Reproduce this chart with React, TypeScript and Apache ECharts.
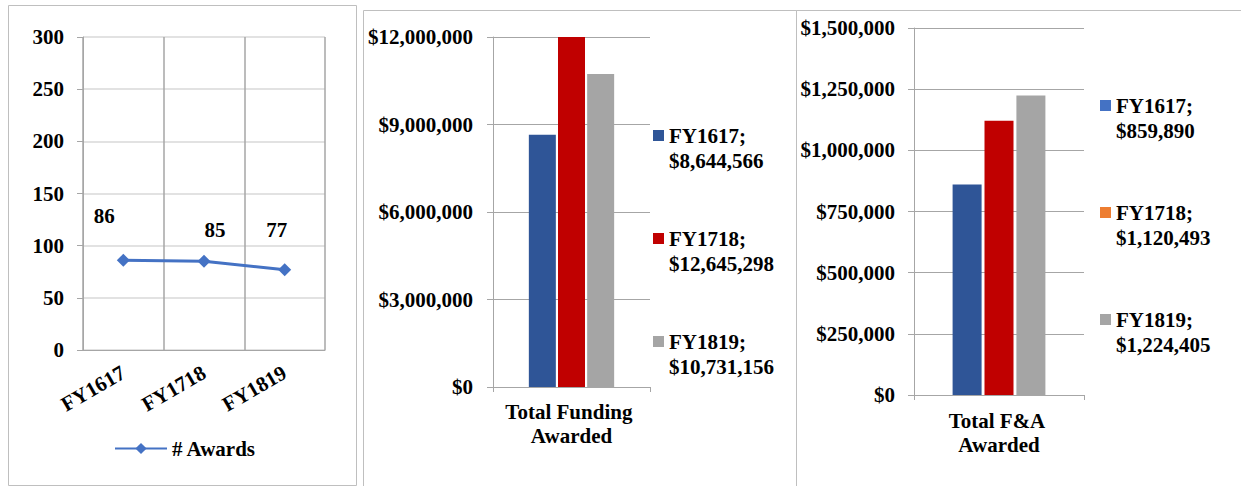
import React, { useEffect, useRef } from "react";
import * as echarts from "echarts";

const years = ["FY1617", "FY1718", "FY1819"];
const awards = [86, 85, 77];
const awardsSeriesName = "# Awards";
const awardsTicks = { min: 0, max: 300, interval: 50 };
const awardLabelOffsets = [[-19, -22], [11, -9], [-8, -18]];

const fundingCategory = ["Total Funding Awarded"];
const fundingValues = [8644566, 12645298, 10731156];
const fundingTicks = { min: 0, max: 12000000, interval: 3000000 };

const faCategory = ["Total F&A Awarded"];
const faValues = [859890, 1120493, 1224405];
const faTicks = { min: 0, max: 1500000, interval: 250000 };

const barColors = ["#2F5597", "#C00000", "#A5A5A5"];
const faLegendColors = ["#4472C4", "#ED7D31", "#A5A5A5"];
const lineColor = "#4472C4";

const FONT = "Liberation Serif";
const txt = { fontFamily: FONT, fontWeight: "bold" as const, fontSize: 21, color: "#000" };

const money = (v: number) => "$" + v.toLocaleString("en-US");

export default function App() {
  const ref = useRef<HTMLDivElement>(null);
  useEffect(() => {
    if (!ref.current) return;
    const chart = echarts.init(ref.current, null, { renderer: "svg" });

    const fundingNames = years.map((y, i) => `${y}; ${money(fundingValues[i])}`);
    const faNames = years.map((y, i) => `${y}; ${money(faValues[i])}`);

    const yAxisCommon = (ticks: any, fmt: (v: number) => string) => ({
      type: "value",
      min: ticks.min,
      max: ticks.max,
      interval: ticks.interval,
      axisLine: { show: true, lineStyle: { color: "#A6A6A6", width: 1 } },
      axisTick: { show: true, length: 6, lineStyle: { color: "#A6A6A6" } },
      axisLabel: { ...txt, margin: 20, formatter: fmt },
      splitLine: { show: true, lineStyle: { color: "#A6A6A6", width: 1 } },
    });

    const legendText = { ...txt, lineHeight: 25 };
    const legendFmt = (n: string) => "\n" + n.replace("; ", ";\n");

    const option: any = {
      animation: false,
      backgroundColor: "#fff",
      textStyle: { fontFamily: FONT },
      graphic: [
        { type: "rect", shape: { x: 8.5, y: 5.5, width: 348, height: 480 }, style: { fill: "none", stroke: "#BFBFBF", lineWidth: 1 }, silent: true },
        { type: "rect", shape: { x: 363.5, y: 10.5, width: 433, height: 490 }, style: { fill: "none", stroke: "#BFBFBF", lineWidth: 1 }, silent: true },
        { type: "rect", shape: { x: 796.5, y: 10.5, width: 460, height: 490 }, style: { fill: "none", stroke: "#BFBFBF", lineWidth: 1 }, silent: true },
      ],
      grid: [
        { left: 83, top: 37, width: 242, height: 313, containLabel: false },
        { left: 493, top: 37, width: 157, height: 350, containLabel: false },
        { left: 914, top: 28, width: 170, height: 367, containLabel: false },
      ],
      xAxis: [
        {
          gridIndex: 0,
          type: "category",
          data: years,
          boundaryGap: true,
          axisLine: { show: true, lineStyle: { color: "#A6A6A6" } },
          axisTick: { show: false },
          axisLabel: { ...txt, rotate: 30, margin: 21, interval: 0 },
          splitLine: { show: true, interval: 0, lineStyle: { color: "#A6A6A6", width: 1.5 } },
        },
        {
          gridIndex: 1,
          type: "category",
          data: fundingCategory,
          axisLine: { show: true, lineStyle: { color: "#A6A6A6" } },
          axisTick: { show: true, length: 5, lineStyle: { color: "#A6A6A6" } },
          axisLabel: { ...txt, margin: 13, lineHeight: 24, width: 150, overflow: "break", interval: 0 },
          splitLine: { show: false },
        },
        {
          gridIndex: 2,
          type: "category",
          data: faCategory,
          axisLine: { show: true, lineStyle: { color: "#A6A6A6" } },
          axisTick: { show: true, length: 5, lineStyle: { color: "#A6A6A6" } },
          axisLabel: { ...txt, margin: 14, lineHeight: 24, width: 150, overflow: "break", interval: 0 },
          splitLine: { show: false },
        },
      ],
      yAxis: [
        {
          gridIndex: 0,
          ...yAxisCommon(awardsTicks, (v: number) => String(v)),
          splitLine: { show: true, lineStyle: { color: "#D9D9D9", width: 1.5 } },
          axisLabel: { ...txt, margin: 19 },
        },
        { gridIndex: 1, ...yAxisCommon(fundingTicks, money) },
        { gridIndex: 2, ...yAxisCommon(faTicks, money), axisLabel: { ...txt, margin: 19, formatter: money } },
      ],
      legend: [
        {
          data: [awardsSeriesName],
          left: 114,
          top: 438,
          padding: 0,
          itemWidth: 52,
          itemHeight: 14,
          textStyle: { ...txt },
        },
        {
          data: fundingNames,
          orient: "vertical",
          left: 653,
          top: 98,
          padding: 0,
          itemWidth: 11,
          itemHeight: 11,
          itemGap: 28,
          icon: "rect",
          formatter: legendFmt,
          textStyle: legendText,
        },
        {
          data: faNames.map((n, i) => ({ name: n, itemStyle: { color: faLegendColors[i] } })),
          orient: "vertical",
          left: 1100,
          top: 68,
          padding: 0,
          itemWidth: 11,
          itemHeight: 11,
          itemGap: 32,
          icon: "rect",
          formatter: legendFmt,
          textStyle: legendText,
        },
      ],
      series: [
        {
          name: awardsSeriesName,
          type: "line",
          xAxisIndex: 0,
          yAxisIndex: 0,
          data: awards.map((v, i) => ({ value: v, label: { offset: awardLabelOffsets[i] } })),
          symbol: "diamond",
          symbolSize: 13,
          lineStyle: { color: lineColor, width: 3 },
          itemStyle: { color: lineColor },
          label: { show: true, position: "top", ...txt },
        },
        ...fundingNames.map((n, i) => ({
          name: n,
          type: "bar",
          xAxisIndex: 1,
          yAxisIndex: 1,
          data: [fundingValues[i]],
          barWidth: 27,
          barGap: "8%",
          clip: true,
          itemStyle: { color: barColors[i] },
        })),
        ...faNames.map((n, i) => ({
          name: n,
          type: "bar",
          xAxisIndex: 2,
          yAxisIndex: 2,
          data: [faValues[i]],
          barWidth: 29,
          barGap: "10%",
          clip: true,
          itemStyle: { color: barColors[i] },
        })),
      ],
    };
    chart.setOption(option);
    return () => chart.dispose();
  }, []);
  return (
    <div
      ref={ref}
      style={{ position: "absolute", left: 0, top: 0, width: 1241, height: 486 }}
    />
  );
}
